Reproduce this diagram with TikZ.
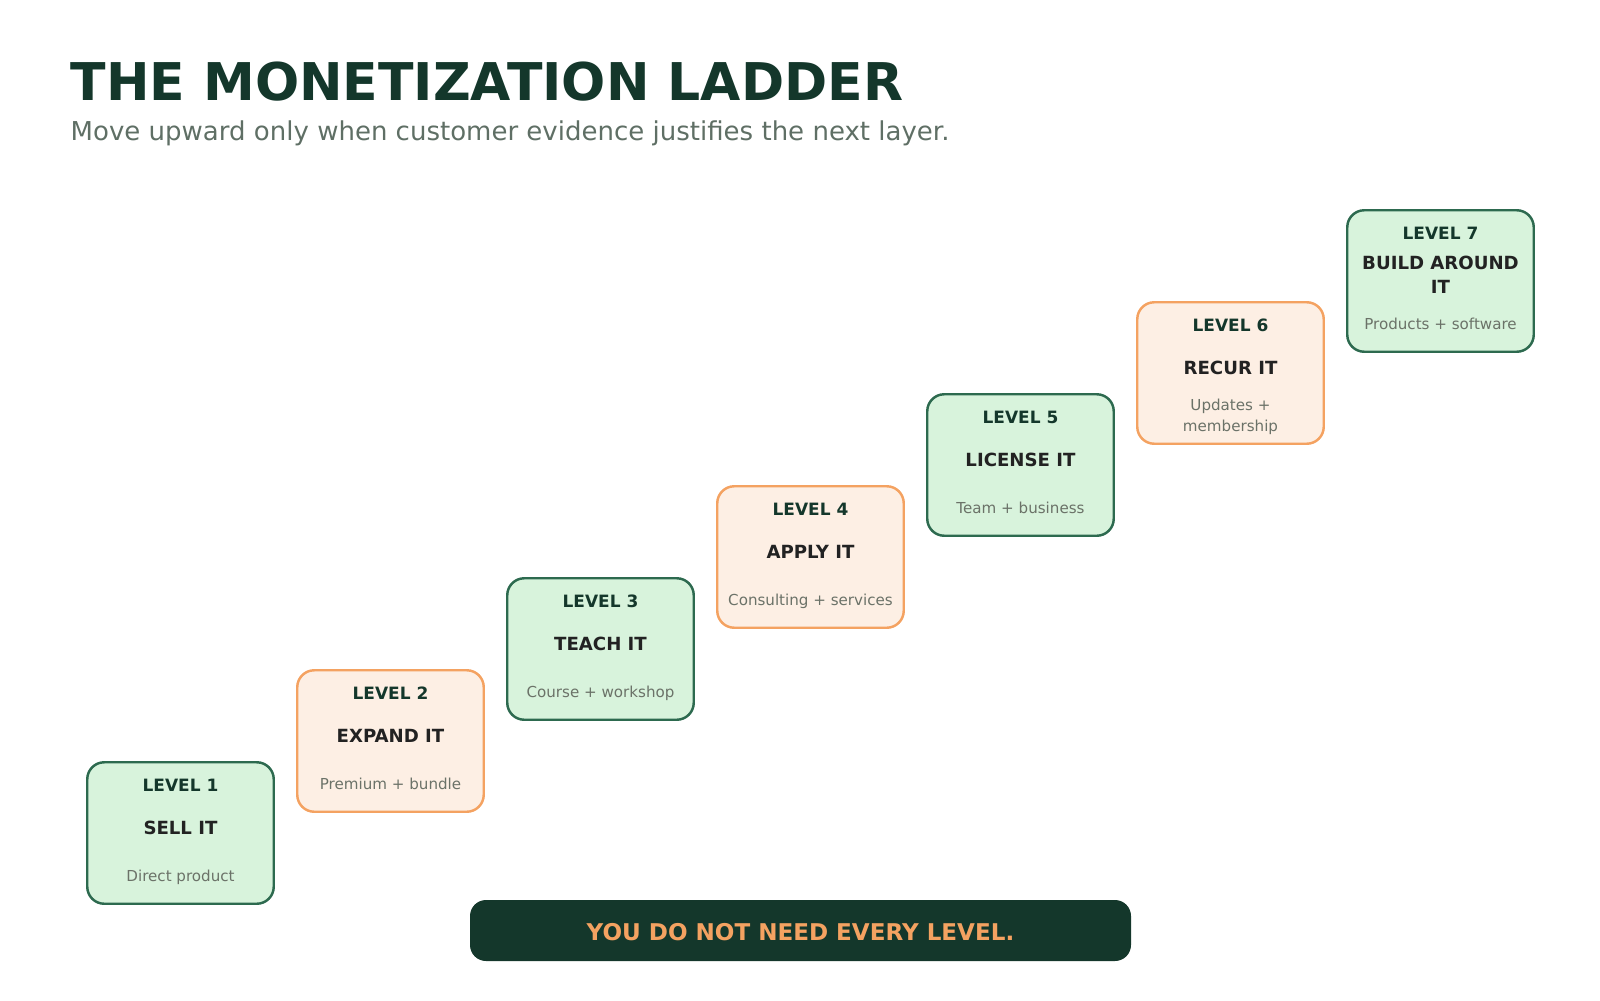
\documentclass[tikz,border=0pt]{standalone}
\usepackage{fontspec}
\setmainfont{DejaVu Sans}
\usetikzlibrary{positioning}

\definecolor{ink}{HTML}{14372B}
\definecolor{mutedgray}{HTML}{5F6F65}
\definecolor{leafline}{HTML}{2D6A4F}
\definecolor{leaffill}{HTML}{D8F3DC}
\definecolor{sandline}{HTML}{F4A261}
\definecolor{sandfill}{HTML}{FDEFE4}
\definecolor{namecol}{HTML}{222222}
\definecolor{whatcol}{HTML}{6B7268}

\begin{document}
\begin{tikzpicture}[x=0.1mm,y=-0.1mm,
  rung/.style={rectangle,rounded corners=1.7mm,line width=0.7pt,
    minimum width=18.65mm,minimum height=14.15mm,inner sep=0pt},
  leafrung/.style={rung,draw=leafline,fill=leaffill},
  sandrung/.style={rung,draw=sandline,fill=sandfill},
  tag/.style={font=\bfseries\fontsize{4.83pt}{5.7pt}\selectfont,text=ink,inner sep=0pt,anchor=base},
  rungname/.style={font=\bfseries\fontsize{5.16pt}{6.55pt}\selectfont,text=namecol,inner sep=0pt,anchor=base,align=center},
  rungwhat/.style={font=\fontsize{4.3pt}{5.7pt}\selectfont,text=whatcol,inner sep=0pt,anchor=base,align=center}]
\useasboundingbox (0,0) rectangle (1600,1000);

\node[anchor=base west,inner sep=0pt,text=ink,font=\bfseries\fontsize{14.8pt}{18pt}\selectfont] (title) at (70,100) {THE MONETIZATION LADDER};
\node[anchor=base west,inner sep=0pt,text=mutedgray,font=\fontsize{7.4pt}{9pt}\selectfont] (subtitle) at (70,140) {Move upward only when customer evidence justifies the next layer.};

% the seven rungs, each one step up and to the right
\foreach \i/\name/\what/\kind/\nameoff/\whatoff in {
  1/SELL IT/Direct product/leafrung/1/48,
  2/EXPAND IT/Premium + bundle/sandrung/1/48,
  3/TEACH IT/Course + workshop/leafrung/1/48,
  4/APPLY IT/Consulting + services/sandrung/1/48,
  5/LICENSE IT/Team + business/leafrung/1/48,
  6/RECUR IT/{Updates +\\membership}/sandrung/1/58,
  7/{BUILD AROUND\\IT}/Products + software/leafrung/12/48}{
  \pgfmathsetmacro\bx{180.5+210*(\i-1)}
  \pgfmathsetmacro\by{833-92*(\i-1)}
  \node[\kind] (lvl\i) at (\bx,\by) {};
  \node[tag] (lvltag\i) at (\bx,\by-42) {LEVEL \i};
  \node[rungname] (lvlname\i) at (\bx,\by+\nameoff) {\name};
  \node[rungwhat] (lvlwhat\i) at (\bx,\by+\whatoff) {\what};
}

\node[rectangle,rounded corners=1.6mm,fill=ink,minimum width=66.1mm,minimum height=6.1mm,inner sep=0pt] (banner) at (800.5,930.5) {};
\node[anchor=base,inner sep=0pt,text=sandline,font=\bfseries\fontsize{6.56pt}{8pt}\selectfont] (bannertext) at (800.5,940) {YOU DO NOT NEED EVERY LEVEL.};
\end{tikzpicture}
\end{document}
